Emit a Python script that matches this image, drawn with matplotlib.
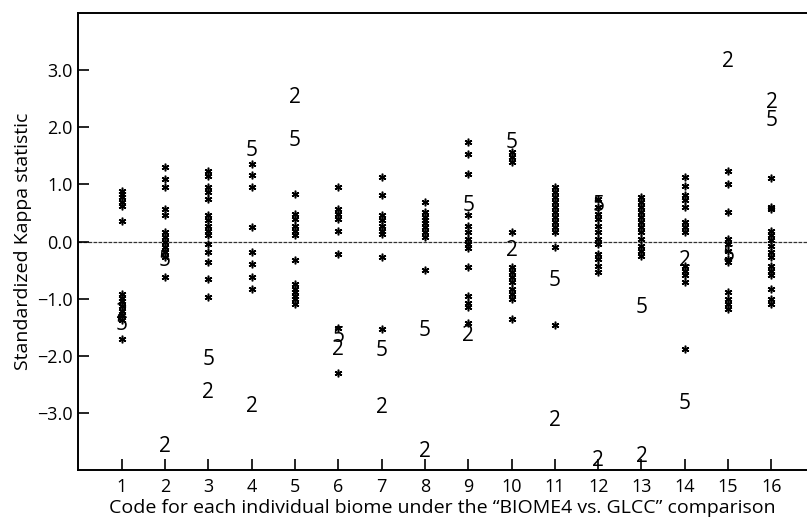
import matplotlib.pyplot as plt

plt.rcParams["font.family"] = ["Open Sans", "DejaVu Sans"]

# biome codes on the x axis
biomes = list(range(1, 17))

# standardized kappa per run (asterisks), one list per biome
stars = [
    [0.89, 0.84, 0.78, 0.70, 0.63, 0.36, -0.92, -0.98, -1.04, -1.12, -1.21, -1.29, -1.38, -1.70],
    [1.30, 1.10, 0.95, 0.57, 0.46, 0.16, 0.08, -0.01, -0.10, -0.19, -0.27, -0.62],
    [1.23, 1.15, 0.95, 0.86, 0.75, 0.46, 0.37, 0.28, 0.19, 0.11, -0.04, -0.19, -0.36, -0.65, -0.97],
    [1.36, 1.16, 0.95, 0.25, -0.19, -0.39, -0.62, -0.83],
    [0.84, 0.49, 0.40, 0.28, 0.19, 0.11, -0.33, -0.74, -0.83, -0.89, -0.95, -1.00, -1.09],
    [0.96, 0.57, 0.49, 0.40, 0.19, -0.22, -1.51, -2.30],
    [1.13, 0.81, 0.46, 0.37, 0.28, 0.19, 0.14, -0.27, -1.53],
    [0.70, 0.52, 0.43, 0.37, 0.32, 0.25, 0.16, 0.08, -0.49],
    [1.74, 1.54, 1.19, 0.46, 0.28, 0.16, 0.05, -0.04, -0.12, -0.45, -0.95, -1.07, -1.15, -1.42],
    [1.57, 1.48, 1.39, 0.16, -0.45, -0.54, -0.62, -0.71, -0.83, -0.92, -1.00, -1.36],
    [0.95, 0.86, 0.78, 0.69, 0.61, 0.52, 0.43, 0.34, 0.25, 0.16, -0.10, -1.46],
    [0.75, 0.61, 0.49, 0.40, 0.28, 0.16, 0.05, -0.04, -0.22, -0.31, -0.42, -0.54],
    [0.78, 0.70, 0.61, 0.52, 0.43, 0.34, 0.25, 0.16, 0.05, -0.07, -0.16, -0.25],
    [1.13, 0.98, 0.81, 0.72, 0.61, 0.34, 0.25, 0.16, -0.42, -0.51, -0.59, -0.71, -1.88],
    [1.23, 1.00, 0.51, 0.05, -0.04, -0.16, -0.31, -0.36, -0.89, -1.00, -1.09, -1.18],
    [1.11, 0.60, 0.57, 0.19, 0.11, 0.02, -0.07, -0.19, -0.27, -0.42, -0.51, -0.59, -0.83, -1.00, -1.09],
]

# values marked with the labels "2" and "5"
label2 = [-1.25, -3.58, -2.65, -2.88, 2.53, -1.89, -2.91, -3.67,
          -1.65, -0.16, -3.14, -3.83, -3.76, -0.33, 3.15, 2.44]
label5 = [-1.45, -0.33, -2.06, 1.60, 1.77, -1.67, -1.91, -1.56,
          0.63, 1.74, -0.68, 0.63, -1.15, -2.83, -0.25, 2.12]

yticks = [-3.0, -2.0, -1.0, 0.0, 1.0, 2.0, 3.0]

fig = plt.figure(figsize=(8.07, 5.24), dpi=100)
ax = fig.add_axes([0.097, 0.103, 0.903, 0.872])

for b, vals in zip(biomes, stars):
    ax.plot([b] * len(vals), vals, linestyle="none", marker=(6, 2, 0),
            markersize=5.5, markeredgewidth=1.1, color="black")

for b, v in zip(biomes, label2):
    ax.text(b, v, "2", ha="center", va="center", fontsize=15)
for b, v in zip(biomes, label5):
    ax.text(b, v, "5", ha="center", va="center", fontsize=15)

ax.axhline(0, color="#333333", linewidth=0.9, linestyle=(0, (3, 1)), zorder=0)

ax.set_xlim(0, 16.82)
ax.set_ylim(-4, 4)
ax.set_xticks(biomes)
ax.set_yticks(yticks)
ax.set_yticklabels([f"{t:.1f}".replace("-", "\u2212") for t in yticks])
ax.tick_params(direction="in", length=8, width=1.2, labelsize=13)
ax.tick_params(axis="y", pad=4)
ax.tick_params(axis="x", pad=6)

ax.spines["right"].set_visible(False)
for s in ["left", "bottom", "top"]:
    ax.spines[s].set_linewidth(1.4)

ax.set_ylabel("Standardized Kappa statistic", fontsize=14, labelpad=4)
ax.set_xlabel("Code for each individual biome under the \u201cBIOME4 vs. GLCC\u201d comparison",
              fontsize=14, labelpad=2)

fig.savefig("out.png", dpi=100)
